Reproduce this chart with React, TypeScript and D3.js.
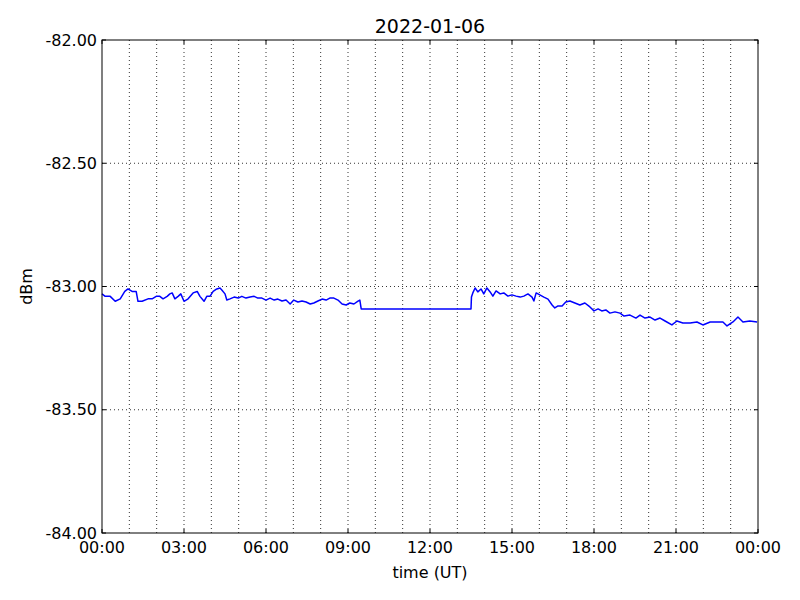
import React from "react";
import * as d3 from "d3";

const title = "2022-01-06";
const xLabel = "time (UT)";
const yLabel = "dBm";
const xTickLabels = ["00:00", "03:00", "06:00", "09:00", "12:00", "15:00", "18:00", "21:00", "00:00"];
const yTicks = [-84, -83.5, -83, -82.5, -82];

// minutes since 00:00 UT
const timesMin = [
  0, 7, 18, 29, 40, 50, 57, 66, 75, 79, 88, 101, 110, 119, 127, 134, 143, 149, 154, 160,
  167, 173, 180, 189, 200, 209, 215, 224, 230, 237, 244, 252, 259, 263, 270, 274, 281, 290, 299, 307,
  316, 325, 334, 342, 351, 360, 369, 378, 386, 395, 404, 413, 421, 430, 439, 448, 457, 465, 474, 483,
  492, 500, 509, 518, 527, 536, 544, 553, 562, 566, 569, 810, 811, 814, 819, 825, 832, 838, 845, 852,
  858, 865, 874, 882, 891, 900, 909, 918, 926, 935, 944, 948, 953, 961, 970, 979, 988, 994, 1001, 1010,
  1018, 1027, 1038, 1049, 1060, 1071, 1080, 1089, 1097, 1106, 1115, 1126, 1137, 1146, 1159, 1172, 1181, 1192, 1203, 1214,
  1225, 1236, 1251, 1262, 1275, 1291, 1306, 1319, 1335, 1350, 1363, 1372, 1385, 1396, 1407, 1422, 1438,
];
const dbm = [
  -83.03, -83.04, -83.04, -83.06, -83.05, -83.02, -83.01, -83.02, -83.02, -83.06, -83.06, -83.05, -83.05, -83.04, -83.04, -83.05, -83.04, -83.03, -83.026, -83.05,
  -83.04, -83.03, -83.06, -83.05, -83.026, -83.02, -83.04, -83.06, -83.04, -83.04, -83.02, -83.01, -83.006, -83.014, -83.03, -83.055, -83.05, -83.043, -83.047, -83.04,
  -83.047, -83.043, -83.04, -83.047, -83.047, -83.055, -83.047, -83.055, -83.051, -83.059, -83.055, -83.071, -83.055, -83.063, -83.059, -83.063, -83.071, -83.067, -83.059, -83.051,
  -83.055, -83.047, -83.047, -83.055, -83.071, -83.075, -83.067, -83.071, -83.059, -83.055, -83.091, -83.091, -83.043, -83.026, -83.006, -83.022, -83.01, -83.03, -83.006, -83.022,
  -83.039, -83.018, -83.03, -83.026, -83.039, -83.034, -83.039, -83.043, -83.039, -83.03, -83.043, -83.059, -83.026, -83.034, -83.043, -83.051, -83.075, -83.087, -83.079, -83.079,
  -83.063, -83.059, -83.067, -83.075, -83.067, -83.083, -83.099, -83.091, -83.099, -83.095, -83.108, -83.103, -83.108, -83.12, -83.116, -83.128, -83.116, -83.128, -83.124, -83.136,
  -83.128, -83.14, -83.156, -83.14, -83.148, -83.148, -83.144, -83.156, -83.144, -83.144, -83.144, -83.16, -83.144, -83.124, -83.144, -83.14, -83.144,
];

const W = 800;
const H = 600;
const L = 102;
const R = 758;
const T = 40;
const B = 533;
const FONT = "DejaVu Sans, sans-serif";

export default function App() {
  const x = d3.scaleLinear().domain([0, 1440]).range([L, R]);
  const y = d3.scaleLinear().domain([-84, -82]).range([B, T]);
  const hours = d3.range(0, 25);
  const majorX = d3.range(0, 25, 3);
  const pts: [number, number][] = timesMin.map((t, i) => [t, dbm[i]]);
  const line = d3
    .line<[number, number]>()
    .x((d) => x(d[0]))
    .y((d) => y(d[1]));

  return (
    <div style={{ position: "absolute", left: 0, top: 0 }}>
      <svg width={W} height={H} style={{ display: "block", background: "#fff" }}>
        <rect x={0} y={0} width={W} height={H} fill="#fff" />
        {/* grid */}
        {hours.slice(1, 24).map((h) => (
          <line
            key={"gx" + h}
            x1={x(h * 60)}
            x2={x(h * 60)}
            y1={T}
            y2={B}
            stroke="#000"
            strokeWidth={0.8}
            strokeDasharray="1,3"
          />
        ))}
        {yTicks.slice(1, 4).map((v) => (
          <line
            key={"gy" + v}
            x1={L}
            x2={R}
            y1={y(v)}
            y2={y(v)}
            stroke="#000"
            strokeWidth={0.8}
            strokeDasharray="1,3"
          />
        ))}
        {/* data */}
        <path d={line(pts) || ""} fill="none" stroke="#0000ff" strokeWidth={1.5} strokeLinejoin="round" />
        {/* ticks */}
        {majorX.map((h) => (
          <g key={"tx" + h}>
            <line x1={x(h * 60)} x2={x(h * 60)} y1={B} y2={B - 4} stroke="#000" />
            <line x1={x(h * 60)} x2={x(h * 60)} y1={T} y2={T + 4} stroke="#000" />
          </g>
        ))}
        {yTicks.map((v) => (
          <g key={"ty" + v}>
            <line x1={L} x2={L + 4} y1={y(v)} y2={y(v)} stroke="#000" />
            <line x1={R} x2={R - 4} y1={y(v)} y2={y(v)} stroke="#000" />
          </g>
        ))}
        {/* frame */}
        <rect x={L} y={T} width={R - L} height={B - T} fill="none" stroke="#000" strokeWidth={1} />
        {/* tick labels */}
        {majorX.map((h, i) => (
          <text
            key={"lx" + h}
            x={x(h * 60)}
            y={553}
            textAnchor="middle"
            fontFamily={FONT}
            fontSize={16}
            fill="#000"
          >
            {xTickLabels[i]}
          </text>
        ))}
        {yTicks.map((v) => (
          <text
            key={"ly" + v}
            x={97}
            y={y(v)}
            dy="0.35em"
            textAnchor="end"
            fontFamily={FONT}
            fontSize={16}
            fill="#000"
          >
            {v.toFixed(2)}
          </text>
        ))}
        <text x={(L + R) / 2} y={578} textAnchor="middle" fontFamily={FONT} fontSize={16} fill="#000">
          {xLabel}
        </text>
        <text
          transform={`translate(32, ${(T + B) / 2}) rotate(-90)`}
          textAnchor="middle"
          fontFamily={FONT}
          fontSize={16}
          fill="#000"
        >
          {yLabel}
        </text>
        <text x={(L + R) / 2} y={33} textAnchor="middle" fontFamily={FONT} fontSize={19} fill="#000">
          {title}
        </text>
      </svg>
    </div>
  );
}
